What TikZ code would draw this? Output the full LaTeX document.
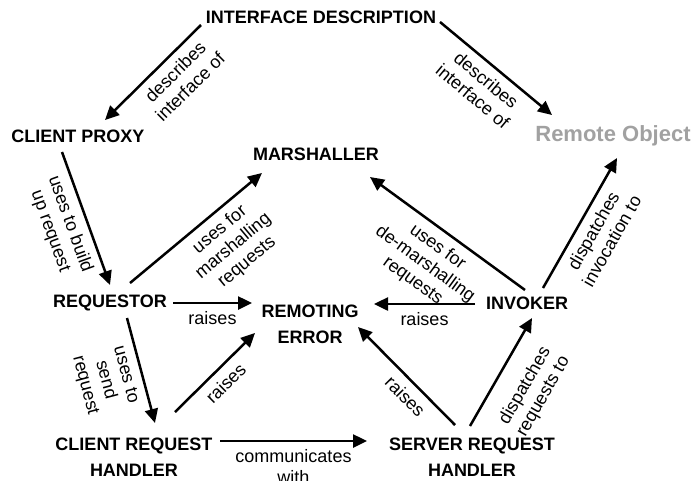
\documentclass[tikz,border=0pt]{standalone}
\usepackage{fontspec}
\setmainfont{Liberation Sans}
\usetikzlibrary{arrows.meta}

\begin{document}
\begin{tikzpicture}[x=1pt,y=-1pt]
    \tikzstyle{part}=[font=\fontsize{18}{26}\selectfont\bfseries, align=center, inner sep=0pt]
    \tikzstyle{rel}=[-{Triangle[length=14pt,width=13pt]}, line width=2.5pt]
    \tikzstyle{lbl}=[font=\fontsize{18}{21}\selectfont, align=center, midway, below=4pt]
    \useasboundingbox (0,0) rectangle (695,480);
    \node[part] (idesc) at (321,17) {INTERFACE DESCRIPTION};
    \node[part] (cproxy) at (78,136) {CLIENT PROXY};
    \node[part] (marsh) at (316,154) {MARSHALLER};
    \node[part, font=\fontsize{22}{26}\selectfont\bfseries, text=black!37] (robj) at (613,136) {Remote Object};
    \node[part] (reqst) at (110,303) {REQUESTOR};
    \node[part] (rerr) at (310,324) {REMOTING\\ERROR};
    \node[part] (invkr) at (527,303) {INVOKER};
    \node[part] (crh) at (134,457) {CLIENT REQUEST\\HANDLER};
    \node[part] (srh) at (472,457) {SERVER REQUEST\\HANDLER};
    \draw[rel] ([shift={(-120,8)}]idesc.center) -- node[lbl, sloped, pos=0.38] {describes\\interface of} ([shift={(27,-16)}]cproxy.center);
    \draw[rel] ([shift={(119,5)}]idesc.center) -- node[lbl, sloped] {describes\\interface of} ([shift={(-61,-21)}]robj.center);
    \draw[rel] ([shift={(-16,16)}]cproxy.center) -- node[lbl, sloped] {uses to build\\up request} ([shift={(0,-18)}]reqst.center);
    \draw[rel] ([shift={(20,-20)}]reqst.center) -- node[lbl, sloped, pos=0.6] {uses for\\marshalling\\requests} ([shift={(-54,19)}]marsh.center);
    \draw[rel] ([shift={(63,0)}]reqst.center) -- node[lbl] {raises} ([shift={(-58,-21)}]rerr.center);
    \draw[rel] ([shift={(17,15)}]reqst.center) -- node[lbl, sloped] {uses to\\send\\request} ([shift={(21,-34)}]crh.center);
    \draw[rel] ([shift={(41,-45)}]crh.center) -- node[lbl, sloped] {raises} ([shift={(-55,9)}]rerr.center);
    \draw[rel] ([shift={(86,-16)}]crh.center) -- node[lbl] {communicates\\with} ([shift={(-105,-16)}]srh.center);
    \draw[rel] ([shift={(-17,-32)}]srh.center) -- node[lbl, sloped, pos=0.4] {raises} ([shift={(48,3)}]rerr.center);
    \draw[rel] ([shift={(-2,-31)}]srh.center) -- node[lbl, sloped, below=11pt] {dispatches\\requests to} ([shift={(5,15)}]invkr.center);
    \draw[rel] ([shift={(-52,1)}]invkr.center) -- node[lbl] {raises} ([shift={(64,-20)}]rerr.center);
    \draw[rel] ([shift={(-2,-13)}]invkr.center) -- node[lbl, sloped] {uses for\\de-marshalling\\requests} ([shift={(54,23)}]marsh.center);
    \draw[rel] ([shift={(16,-15)}]invkr.center) -- node[lbl, sloped] {dispatches\\invocation to} ([shift={(4,22)}]robj.center);
\end{tikzpicture}
\end{document}
